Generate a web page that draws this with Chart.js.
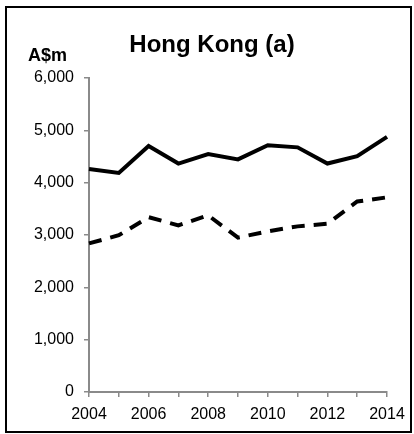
<!DOCTYPE html>
<html>
<head>
<meta charset="utf-8">
<script src="https://cdn.jsdelivr.net/npm/chart.js@4.4.1/dist/chart.umd.min.js"></script>
<style>
  html, body { margin: 0; padding: 0; background: #fff; }
  #wrap { position: relative; width: 414px; height: 434px; }
  #frame { position: absolute; left: 5px; top: 6px; width: 403px; height: 423px; border: 2px solid #000; }
  canvas { position: absolute; left: 0; top: 0; }
</style>
</head>
<body>
<div id="wrap">
  <div id="frame"></div>
  <canvas id="chart" width="414" height="434"></canvas>
</div>
<script>
// Chart data
const years = ['2004', '2005', '2006', '2007', '2008', '2009', '2010', '2011', '2012', '2013', '2014'];
const solidSeries = [4260, 4185, 4700, 4365, 4545, 4445, 4715, 4675, 4365, 4505, 4875];
const dashedSeries = [2840, 2995, 3340, 3185, 3375, 2950, 3070, 3165, 3215, 3640, 3720];
const yTicks = [0, 1000, 2000, 3000, 4000, 5000, 6000];
const titleText = 'Hong Kong (a)';
const unitText = 'A$m';

const axisGray = '#8a8a8a';
const fontFamily = '"Liberation Sans", Arial, sans-serif';

// Title and unit label drawn on top
const labelsPlugin = {
    id: 'labels',
    afterDraw(chart) {
        const ctx = chart.ctx;
        ctx.save();
        ctx.fillStyle = '#000';
        ctx.textBaseline = 'alphabetic';
        ctx.textAlign = 'center';
        ctx.font = 'bold 24px ' + fontFamily;
        ctx.fillText(titleText, 212, 52);
        ctx.textAlign = 'left';
        ctx.font = 'bold 18px ' + fontFamily;
        ctx.fillText(unitText, 28, 61);
        ctx.restore();
    }
};

new Chart(document.getElementById('chart'), {
    type: 'line',
    data: {
        labels: years,
        datasets: [
            {
                data: solidSeries,
                borderColor: '#000',
                borderWidth: 4,
                pointRadius: 0,
                tension: 0
            },
            {
                data: dashedSeries,
                borderColor: '#000',
                borderWidth: 4,
                borderDash: [13, 9],
                pointRadius: 0,
                tension: 0
            }
        ]
    },
    options: {
        responsive: false,
        animation: false,
        layout: { padding: { top: 78, right: 27, bottom: 0, left: 0 } },
        plugins: { legend: { display: false }, tooltip: { enabled: false }, title: { display: false } },
        scales: {
            x: {
                offset: false,
                afterFit: (s) => { s.height = 42; },
                grid: { drawOnChartArea: false, drawTicks: true, tickLength: 5, color: axisGray, lineWidth: 1.5 },
                border: { color: axisGray, width: 2 },
                ticks: {
                    autoSkip: false, maxRotation: 0, padding: 8, color: '#000',
                    font: { family: fontFamily, size: 16 },
                    callback: (v, i) => (i % 2 === 0 ? years[i] : '')
                }
            },
            y: {
                min: 0, max: 6000,
                afterFit: (s) => { s.width = 89; },
                afterBuildTicks: (s) => { s.ticks = yTicks.map(v => ({ value: v })); },
                grid: { drawOnChartArea: false, drawTicks: true, tickLength: 5, color: axisGray, lineWidth: 1.5 },
                border: { color: axisGray, width: 2 },
                ticks: {
                    padding: 10, color: '#000',
                    font: { family: fontFamily, size: 16 },
                    callback: (v) => v.toLocaleString('en-US')
                }
            }
        }
    },
    plugins: [labelsPlugin]
});
</script>
</body>
</html>
